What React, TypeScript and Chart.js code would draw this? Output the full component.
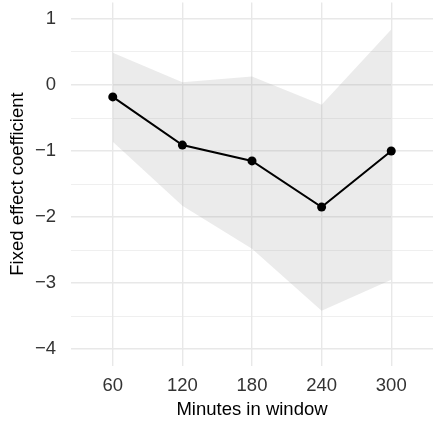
import React, { useEffect, useRef } from "react";
import { Chart, registerables } from "chart.js";

Chart.register(...registerables);

const minutes = [60, 120, 180, 240, 300];
const coefficient = [-0.18, -0.91, -1.15, -1.85, -1.0];
const upperCI = [0.49, 0.04, 0.13, -0.3, 0.84];
const lowerCI = [-0.86, -1.83, -2.48, -3.42, -2.95];
const yTicks = [-4, -3.5, -3, -2.5, -2, -1.5, -1, -0.5, 0, 0.5, 1];
const xTicks = [60, 120, 180, 240, 300];

const FONT = "'Liberation Sans', Arial, Helvetica, sans-serif";

const noPad = (s: any) => {
  s.paddingTop = 0;
  s.paddingBottom = 0;
  s.paddingLeft = 0;
  s.paddingRight = 0;
};

export default function App() {
  const ref = useRef<HTMLCanvasElement | null>(null);
  useEffect(() => {
    if (!ref.current) return;
    const pts = (arr: number[]) => minutes.map((m, i) => ({ x: m, y: arr[i] }));
    const chart = new Chart(ref.current, {
      type: "line",
      data: {
        datasets: [
          {
            data: pts(coefficient),
            borderColor: "#000000",
            backgroundColor: "#000000",
            borderWidth: 2,
            pointRadius: 4.5,
            pointBorderWidth: 0,
            fill: false,
            order: 0,
          },
          {
            data: pts(lowerCI),
            borderColor: "rgba(0,0,0,0)",
            borderWidth: 0,
            pointRadius: 0,
            fill: false,
            order: 2,
          },
          {
            data: pts(upperCI),
            borderColor: "rgba(0,0,0,0)",
            borderWidth: 0,
            pointRadius: 0,
            backgroundColor: "rgba(153,153,153,0.2)",
            fill: "-1",
            order: 1,
          },
        ],
      },
      options: {
        animation: false,
        responsive: true,
        maintainAspectRatio: false,
        layout: { autoPadding: false, padding: { top: 2.5, right: 0, left: 0, bottom: 0 } },
        plugins: { legend: { display: false }, tooltip: { enabled: false } },
        scales: {
          x: {
            type: "linear",
            min: 24,
            max: 336,
            afterBuildTicks: (s: any) => {
              s.ticks = xTicks.map((v) => ({ value: v }));
            },
            afterFit: (s: any) => {
              s.height = 57.5;
              noPad(s);
            },
            grid: { color: "#e8e8e8", lineWidth: 1.4, drawTicks: false },
            border: { display: false },
            ticks: {
              padding: 9,
              color: "#333333",
              font: { family: FONT, size: 18.5 },
              maxRotation: 0,
              callback: (v: any) => String(v),
            },
            title: {
              display: true,
              text: "Minutes in window",
              color: "#000000",
              font: { family: FONT, size: 18.5 },
              padding: { top: 0, bottom: 2 },
            },
          },
          y: {
            min: -4.25,
            max: 1.25,
            afterBuildTicks: (s: any) => {
              s.ticks = yTicks.map((v) => ({ value: v }));
            },
            afterFit: (s: any) => {
              s.width = 71;
              noPad(s);
            },
            grid: {
              color: "#e8e8e8",
              lineWidth: (c: any) => (Number.isInteger(c.tick?.value) ? 1.4 : 0.7),
              drawTicks: false,
            },
            border: { display: false },
            ticks: {
              padding: 15,
              color: "#333333",
              font: { family: FONT, size: 18.5 },
              callback: (v: any) =>
                Number.isInteger(v) ? String(v).replace("-", "\u2212") : "",
            },
            title: {
              display: true,
              text: "Fixed effect coefficient",
              color: "#000000",
              font: { family: FONT, size: 18.5 },
              padding: { top: 7, bottom: 0 },
            },
          },
        },
      },
    });
    return () => chart.destroy();
  }, []);
  return (
    <div style={{ position: "fixed", left: 0, top: 0, width: 433, height: 423, background: "#fff" }}>
      <canvas ref={ref} />
    </div>
  );
}
